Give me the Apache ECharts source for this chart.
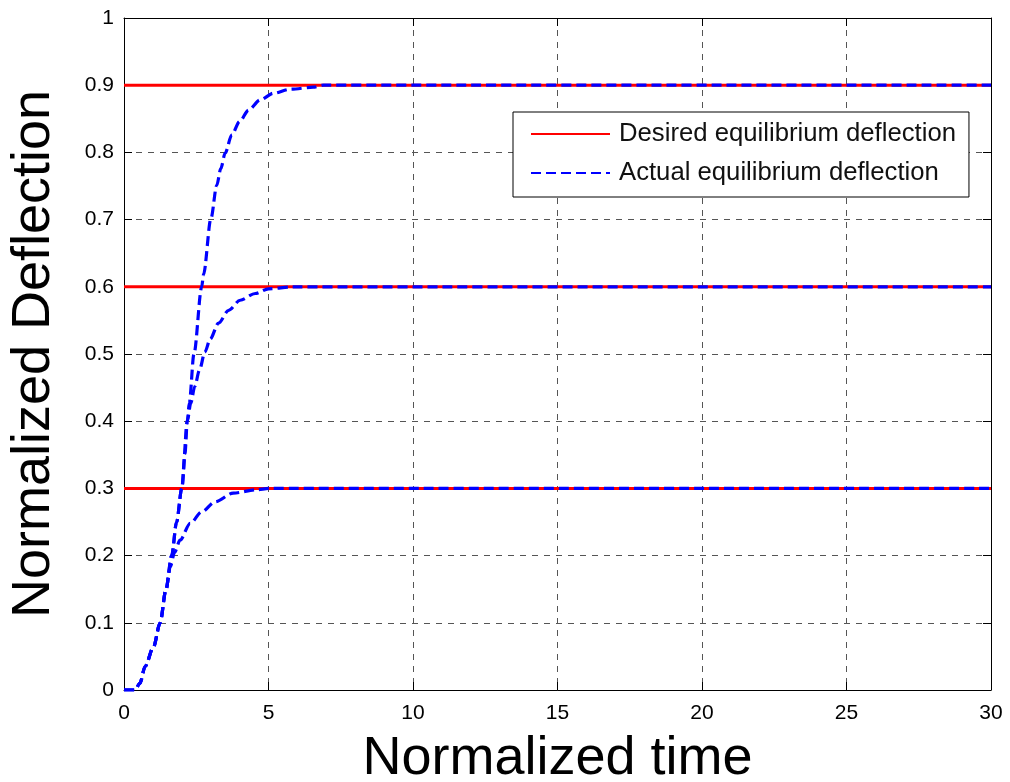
<!DOCTYPE html>
<html>
<head>
<meta charset="utf-8">
<script src="https://cdn.jsdelivr.net/npm/echarts@6/dist/echarts.min.js"></script>
<style>
  html, body { margin: 0; padding: 0; background: #fff; }
  #chart { width: 1010px; height: 782px; }
</style>
</head>
<body>
<div id="chart"></div>
<script>
// desired equilibrium levels (red lines)
const targets = [0.3, 0.6, 0.9]
const tRange = [0, 30]

// actual responses (blue dashed)
const timeLow = [0, 0.38, 0.55, 0.73, 1.02, 1.25, 1.45, 1.6, 1.75, 1.94, 2.29, 2.69, 3.15, 3.78, 4.6, 5.0, 30]
const deflLow = [0, 0, 0.01, 0.035, 0.064, 0.1, 0.149, 0.183, 0.205, 0.223, 0.248, 0.265, 0.28, 0.293, 0.298, 0.3, 0.3]

const timeMid = [0, 0.38, 0.55, 0.73, 1.02, 1.25, 1.45, 1.65, 1.82, 2.0, 2.19, 2.31, 2.45, 2.61, 2.8, 2.98, 3.27, 3.62, 4.02, 4.54, 5.0, 5.85, 30]
const deflMid = [0, 0, 0.01, 0.035, 0.064, 0.1, 0.149, 0.2, 0.25, 0.3, 0.4, 0.427, 0.452, 0.476, 0.503, 0.522, 0.546, 0.565, 0.58, 0.59, 0.597, 0.6, 0.6]

const timeHigh = [0, 0.38, 0.55, 0.73, 1.02, 1.25, 1.45, 1.65, 1.82, 2.0, 2.11, 2.19, 2.26, 2.42, 2.69, 2.75, 3.01, 3.21, 3.35, 3.5, 3.73, 4.0, 4.31, 4.71, 5.17, 5.75, 6.55, 6.9, 30]
const deflHigh = [0, 0, 0.01, 0.035, 0.064, 0.1, 0.149, 0.2, 0.25, 0.3, 0.352, 0.4, 0.427, 0.5, 0.6, 0.618, 0.702, 0.751, 0.776, 0.799, 0.826, 0.846, 0.863, 0.878, 0.888, 0.894, 0.897, 0.9, 0.9]

const desiredName = 'Desired equilibrium deflection'
const actualName = 'Actual equilibrium deflection'
const font = 'Liberation Sans, Arial, sans-serif'

const zip = (xs, ys) => xs.map((x, i) => [x, ys[i]])

const chart = echarts.init(document.getElementById('chart'))

const redSeries = targets.map(v => ({
  name: desiredName,
  type: 'line',
  data: tRange.map(t => [t, v]),
  showSymbol: false,
  symbol: 'none',
  lineStyle: { color: '#ff0000', width: 3 },
  itemStyle: { color: '#ff0000' },
  z: 2
}))

const blueSeries = [[timeLow, deflLow], [timeMid, deflMid], [timeHigh, deflHigh]].map(([ts, ys]) => ({
  name: actualName,
  type: 'line',
  data: zip(ts, ys),
  showSymbol: false,
  symbol: 'none',
  smooth: 0.3,
  smoothMonotone: 'x',
  lineStyle: { color: '#0000ff', width: 3.2, type: [10, 5] },
  itemStyle: { color: '#0000ff' },
  z: 3
}))

const gridLine = { show: true, lineStyle: { color: '#555', width: 1, type: [6, 6] } }
const boxTick = { show: true, inside: true, length: 8, lineStyle: { color: '#000' } }
const boxLine = { show: true, onZero: false, lineStyle: { color: '#000', width: 1 } }

const options = {
  animation: false,
  backgroundColor: '#fff',
  grid: { left: 124, right: 19, top: 18, bottom: 92, containLabel: false, outerBoundsMode: 'none' },
  legend: {
    orient: 'vertical',
    left: 513,
    top: 112,
    data: [desiredName, actualName],
    backgroundColor: '#fff',
    borderColor: '#000',
    borderWidth: 1,
    padding: [9, 13, 11, 17],
    itemWidth: 79,
    itemHeight: 14,
    itemGap: 13,
    itemStyle: { opacity: 0 },
    textStyle: { fontFamily: font, fontSize: 25.7, color: '#111', padding: [0, 0, 0, 4] }
  },
  xAxis: [
    {
      type: 'value',
      min: 0,
      max: 30,
      interval: 5,
      name: 'Normalized time',
      nameLocation: 'middle',
      nameGap: 42,
      nameTextStyle: { fontFamily: font, fontSize: 54, color: '#000' },
      axisLine: boxLine,
      axisTick: boxTick,
      axisLabel: { fontFamily: font, fontSize: 21, color: '#000', margin: 13 },
      splitLine: gridLine
    },
    {
      type: 'value',
      position: 'top',
      min: 0,
      max: 30,
      interval: 5,
      axisLine: boxLine,
      axisTick: boxTick,
      axisLabel: { show: false },
      splitLine: { show: false }
    }
  ],
  yAxis: [
    {
      type: 'value',
      min: 0,
      max: 1,
      interval: 0.1,
      name: 'Normalized Deflection',
      nameLocation: 'middle',
      nameGap: 63,
      nameTextStyle: { fontFamily: font, fontSize: 54, color: '#000' },
      axisLine: boxLine,
      axisTick: boxTick,
      axisLabel: {
        fontFamily: font,
        fontSize: 21,
        color: '#000',
        margin: 10,
        formatter: v => (v === 0 || v === 1) ? String(v) : v.toFixed(1)
      },
      splitLine: gridLine
    },
    {
      type: 'value',
      position: 'right',
      min: 0,
      max: 1,
      interval: 0.1,
      axisLine: boxLine,
      axisTick: boxTick,
      axisLabel: { show: false },
      splitLine: { show: false }
    }
  ],
  series: [...redSeries, ...blueSeries]
}

chart.setOption(options)
</script>
</body>
</html>
